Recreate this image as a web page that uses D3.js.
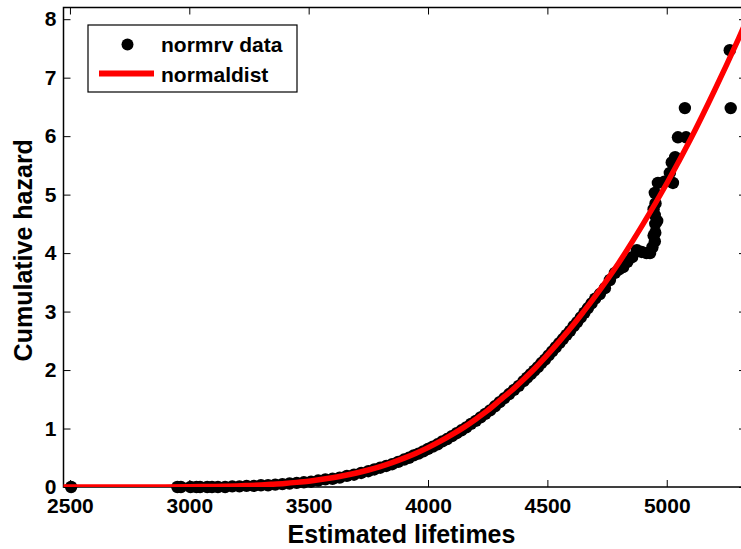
<!DOCTYPE html>
<html>
<head>
<meta charset="utf-8">
<script src="https://cdn.jsdelivr.net/npm/d3@7/dist/d3.min.js"></script>
<style>
body { margin: 0; background: #fff; }
svg { display: block; }
text { font-family: Arial, "Liberation Sans", sans-serif; font-weight: bold; }
</style>
</head>
<body>
<svg></svg>
<script>
// fitted normal cumulative hazard
var lineX = [2450, 2700, 2900, 3000, 3050, 3100, 3150, 3200, 3250, 3300, 3350, 3400, 3450, 3500,
    3550, 3600, 3650, 3700, 3750, 3800, 3850, 3900, 3950, 4000, 4050, 4100, 4150, 4200, 4250,
    4300, 4350, 4400, 4450, 4500, 4550, 4600, 4650, 4700, 4800, 4900, 5000, 5100, 5200, 5300, 5350]
var lineH = [0, 0, 0.002, 0.005, 0.007, 0.010, 0.014, 0.019, 0.026, 0.035, 0.047, 0.061, 0.079, 0.100,
    0.127, 0.158, 0.196, 0.240, 0.291, 0.350, 0.417, 0.493, 0.578, 0.673, 0.779, 0.895, 1.02, 1.16, 1.31,
    1.48, 1.65, 1.84, 2.04, 2.26, 2.49, 2.73, 2.99, 3.26, 3.84, 4.49, 5.19, 5.95, 6.78, 7.66, 8.12]

// normrv data points (estimated lifetime, cumulative hazard)
var dataX = [2505, 2950, 2965, 3005, 3030, 3045, 3075, 3095,
    3120, 3150, 3180, 3210, 3240, 3270, 3300, 3330, 3360, 3390, 3420, 3450, 3480, 3510, 3540, 3570,
    3600, 3630, 3660, 3690, 3720, 3750, 3775, 3800, 3825, 3850, 3875, 3900, 3920, 3940, 3960, 3980,
    4000, 4020, 4040, 4060, 4080, 4100, 4120, 4140, 4160, 4180, 4200, 4220, 4240, 4260, 4280,
    4300, 4320, 4340, 4360, 4380, 4400, 4415, 4430, 4445, 4460, 4475, 4490, 4505, 4520, 4535,
    4550, 4565, 4580, 4595, 4610, 4625, 4640, 4655, 4670, 4685, 4700, 4720, 4741, 4762, 4783,
    4800, 4817, 4835, 4855, 4875, 4895, 4915, 4930, 4940, 4945, 4950, 4960, 4952, 4952, 4945, 4950,
    4953, 4950, 4963, 4990, 5013, 5026, 5021, 5035, 5047, 5081, 5076, 5268, 5264]
var dataH = [0, 0, 0, 0, 0, 0, 0, 0,
    0, 0, 0.01, 0.01, 0.02, 0.02, 0.03, 0.03, 0.04, 0.05, 0.06, 0.07, 0.08, 0.09, 0.11, 0.13,
    0.14, 0.16, 0.19, 0.21, 0.24, 0.27, 0.30, 0.33, 0.36, 0.39, 0.43, 0.47, 0.50, 0.54, 0.57, 0.61,
    0.65, 0.69, 0.73, 0.78, 0.82, 0.87, 0.92, 0.97, 1.02, 1.08, 1.13, 1.19, 1.25, 1.31, 1.38,
    1.45, 1.52, 1.59, 1.66, 1.73, 1.81, 1.87, 1.93, 1.99, 2.05, 2.12, 2.18, 2.25, 2.32, 2.39,
    2.46, 2.53, 2.60, 2.67, 2.75, 2.82, 2.90, 2.98, 3.06, 3.14, 3.22, 3.30, 3.40, 3.54, 3.66,
    3.72, 3.76, 3.85, 3.93, 4.05, 4.02, 4.00, 4.00, 4.10, 4.30, 4.20, 4.55, 4.35, 4.50, 4.75, 4.65,
    4.85, 5.03, 5.20, 5.22, 5.37, 5.20, 5.55, 5.64, 5.98, 5.98, 6.48, 6.48, 7.47]

var xTicks = [2500, 3000, 3500, 4000, 4500, 5000]
var yTicks = [0, 1, 2, 3, 4, 5, 6, 7, 8]
var legendLabels = ["normrv data", "normaldist"]

var screen = {width: 741, height: 549}
var margins = {top: 7.5, bottom: 62, left: 63.5, right: -5}

var width = screen.width - margins.left - margins.right
var height = screen.height - margins.top - margins.bottom

var svg = d3.select("svg")
    .attr("width", screen.width)
    .attr("height", screen.height)

var xScale = d3.scaleLinear()
    .domain([2473, 5332])
    .range([0, width])

var yScale = d3.scaleLinear()
    .domain([0, 8.2])
    .range([height, 0])

var plot = svg.append("g")
    .attr("transform", "translate(" + margins.left + "," + margins.top + ")")

plot.append("clipPath")
    .attr("id", "clip")
    .append("rect")
    .attr("width", width)
    .attr("height", height)

// axes with inward ticks on all four sides
var styleAxis = function(g)
{
    g.select(".domain").remove()
    g.selectAll(".tick line").attr("stroke", "#000").attr("stroke-width", 1)
    g.selectAll("text").attr("fill", "#000").style("font-size", "21px")
}

plot.append("g")
    .attr("transform", "translate(0," + height + ")")
    .call(d3.axisBottom(xScale).tickValues(xTicks).tickSize(-7).tickPadding(11).tickFormat(d3.format("d")))
    .call(styleAxis)

plot.append("g")
    .call(d3.axisTop(xScale).tickValues(xTicks).tickSize(-7).tickFormat(""))
    .call(styleAxis)

plot.append("g")
    .call(d3.axisLeft(yScale).tickValues(yTicks).tickSize(-7).tickPadding(7))
    .call(styleAxis)

plot.append("g")
    .attr("transform", "translate(" + width + ",0)")
    .call(d3.axisRight(yScale).tickValues(yTicks).tickSize(-7).tickFormat(""))
    .call(styleAxis)

plot.append("rect")
    .attr("width", width)
    .attr("height", height)
    .attr("fill", "none")
    .attr("stroke", "#000")
    .attr("stroke-width", 1.5)

plot.append("g")
    .selectAll("circle")
    .data(dataX)
    .enter()
    .append("circle")
    .attr("cx", function(d) { return xScale(d) })
    .attr("cy", function(d, i) { return yScale(dataH[i]) })
    .attr("r", 6.2)
    .attr("fill", "#000")

var line = d3.line()
    .x(function(d) { return xScale(d) })
    .y(function(d, i) { return yScale(lineH[i]) })
    .curve(d3.curveMonotoneX)

plot.append("path")
    .datum(lineX)
    .attr("clip-path", "url(#clip)")
    .attr("d", line)
    .attr("fill", "none")
    .attr("stroke", "#ff0000")
    .attr("stroke-width", 5.5)

// axis titles
svg.append("text")
    .attr("x", margins.left + 338)
    .attr("y", 543)
    .attr("text-anchor", "middle")
    .style("font-size", "25px")
    .text("Estimated lifetimes")

svg.append("text")
    .attr("transform", "translate(32," + (margins.top + height / 2 + 3) + ") rotate(-90)")
    .attr("text-anchor", "middle")
    .style("font-size", "25px")
    .text("Cumulative hazard")

// legend
var legend = svg.append("g")
    .attr("transform", "translate(88,25)")

legend.append("rect")
    .attr("width", 209)
    .attr("height", 67)
    .attr("fill", "#fff")
    .attr("stroke", "#000")
    .attr("stroke-width", 1.2)

legend.append("circle")
    .attr("cx", 39.5)
    .attr("cy", 19.5)
    .attr("r", 6)
    .attr("fill", "#000")

legend.append("line")
    .attr("x1", 11)
    .attr("x2", 66)
    .attr("y1", 48.5)
    .attr("y2", 48.5)
    .attr("stroke", "#ff0000")
    .attr("stroke-width", 6)

legend.selectAll(".label")
    .data(legendLabels)
    .enter()
    .append("text")
    .attr("class", "label")
    .attr("x", 73)
    .attr("y", function(d, i) { return 27 + i * 30 })
    .style("font-size", "21px")
    .text(function(d) { return d })
</script>
</body>
</html>
